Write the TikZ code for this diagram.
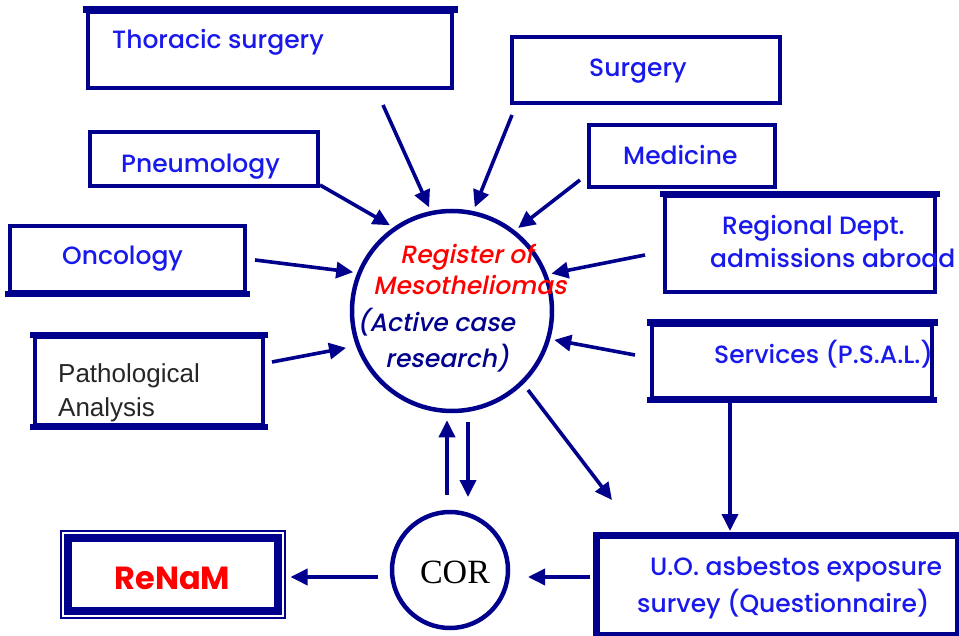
\documentclass[tikz,border=0pt]{standalone}
\usepackage{fontspec}
\usetikzlibrary{arrows.meta}
\newfontfamily\gothic[UprightFont={* Medium}, BoldFont={* Bold}]{Poppins}
\newfontfamily\gothicit[UprightFont={* Medium}, UprightFeatures={FakeSlant=0.2}]{Poppins}
\newfontfamily\arialf{Liberation Sans}
\newfontfamily\timesf{Liberation Serif}
\definecolor{navy}{RGB}{0,0,140}
\definecolor{tblue}{RGB}{25,25,235}
\definecolor{tred}{RGB}{255,0,0}
\begin{document}
\begin{tikzpicture}[x=1pt,y=-1pt,
  box/.style={draw=navy, line width=4pt, fill=white, inner sep=0pt, rectangle},
  txt/.style={anchor=base west, inner sep=0pt, text=tblue, font=\gothic\fontsize{25}{29}\selectfont},
  ctxt/.style={anchor=base west, inner sep=0pt, font=\gothicit\fontsize{25}{29}\selectfont},
  arr/.style={draw=navy, line width=3.6pt, -{Triangle[length=17pt,width=16pt]}, shorten >=4pt},
  edge/.style={draw=navy, line cap=rect}
]
\useasboundingbox (0,0) rectangle (959,636);

% boxes
\node[box, minimum width=364pt, minimum height=76pt] (thor) at (270,50) {};
\node[box, minimum width=268pt, minimum height=66pt] (surg) at (646,70) {};
\node[box, minimum width=186pt, minimum height=62pt] (med) at (682,156) {};
\node[box, minimum width=228pt, minimum height=54pt] (pneu) at (204,159) {};
\node[box, minimum width=270pt, minimum height=96pt] (reg) at (800,244) {};
\node[box, minimum width=235pt, minimum height=66pt] (onc) at (127.5,259) {};
\node[box, minimum width=280pt, minimum height=73pt] (serv) at (792,361.5) {};
\node[box, minimum width=228pt, minimum height=88pt] (path) at (149,381) {};
\node[box, minimum width=359pt, minimum height=97pt] (uo) at (777.5,585.5) {};

% thicker edges
\draw[edge, line width=7pt] (thor.north west) -- (thor.north east);
\draw[edge, line width=5.5pt] (reg.north west) -- (reg.north east);
\draw[edge, line width=6pt] (onc.south west) -- (onc.south east);
\draw[edge, line width=7pt] (serv.north west) -- (serv.north east);
\draw[edge, line width=6pt] (serv.south west) -- (serv.south east);
\draw[edge, line width=6pt] (path.north west) -- (path.north east);
\draw[edge, line width=6pt] (path.south west) -- (path.south east);
\draw[edge, line width=5.5pt] (uo.north west) -- (uo.north east);
\draw[edge, line width=5.5pt] (uo.north west) -- (uo.south west);

% ReNaM double box
\node[draw=navy, line width=2pt, minimum width=224pt, minimum height=87pt, inner sep=0pt] (renam) at (172.5,574.5) {};
\draw[navy, line width=8pt] ([shift={(8pt,-8pt)}]renam.north west) rectangle ([shift={(-8pt,8pt)}]renam.south east);
\node[inner sep=0pt, text=tred, font=\gothic\bfseries\fontsize{32}{36}\selectfont] (renamt) at (172.5,578) {ReNaM};

% circles
\node[circle, draw=navy, line width=4.5pt, minimum size=200pt, inner sep=0pt] (mes) at (452,311) {};
\node[circle, draw=navy, line width=4.5pt, minimum size=116pt, inner sep=0pt] (cor) at (450,570) {};
\node[inner sep=0pt, font=\timesf\fontsize{34}{38}\selectfont, anchor=base] (cort) at (455,583) {COR};

% texts
\node[txt] (tthor) at (112,49) {Thoracic surgery};
\node[txt] (tsurg) at (589,77) {Surgery};
\node[txt] (tmed) at (623,165) {Medicine};
\node[txt] (tpneu) at (121,173) {Pneumology};
\node[txt] (tonc) at (62,265) {Oncology};
\node[txt] (treg1) at (722,235) {Regional Dept.};
\node[txt] (treg2) at (710,268) {admissions abroad};
\node[txt] (tserv) at (714,364) {Services (P.S.A.L.)};
\node[txt] (tuo1) at (650,575) {U.O. asbestos exposure};
\node[txt] (tuo2) at (637,612) {survey (Questionnaire)};
\node[anchor=base west, inner sep=0pt, text=black!85, font=\arialf\fontsize{26}{30}\selectfont] (tpath1) at (58,382) {Pathological};
\node[anchor=base west, inner sep=0pt, text=black!85, font=\arialf\fontsize{26}{30}\selectfont] (tpath2) at (58,417) {Analysis};

\node[ctxt, text=tred] (tm1) at (400,264) {Register of};
\node[ctxt, text=tred] (tm2) at (373,295) {Mesotheliomas};
\node[ctxt, text=navy] (tm3) at (357,332) {(Active case};
\node[ctxt, text=navy] (tm4) at (385,367) {research)};

% arrow tails
\coordinate (a1) at (383,105);
\coordinate (a2) at (512,115);
\coordinate (a3) at (580,180);
\coordinate (a4) at (320,185);
\coordinate (a5) at (255,260);
\coordinate (a6) at (645,255);
\coordinate (a7) at (272,362);
\coordinate (a8) at (635,355);

\draw[arr] (a1) -- (mes.102);
\draw[arr] (a2) -- (mes.78);
\draw[arr] (a3) -- (mes.52);
\draw[arr] (a4) -- (mes.125);
\draw[arr] (a5) -- (mes.158);
\draw[arr] (a6) -- (mes.21);
\draw[arr, shorten >=10pt] (a7) -- (mes.200);
\draw[arr] (a8) -- (mes.344);

\coordinate (b1) at (528,390);
\coordinate (b2) at (612,500);
\draw[arr, shorten >=0pt] (b1) -- (b2);

\draw[arr] ([xshift=-62pt]serv.south) -- ([xshift=-62pt]serv.south |- uo.north);
\coordinate (u1) at (447,495);
\coordinate (d2) at (468,497);
\draw[arr, shorten >=7pt] (u1) -- (mes.south -| u1);
\draw[arr, shorten >=0pt, shorten <=9pt] (mes.south -| d2) -- (d2);

\coordinate (c1) at (590,577);
\coordinate (c2) at (378,577);
\draw[arr, shorten >=0pt] (c1) -- (528,577);
\draw[arr, shorten >=5pt] (c2) -- (renam.east |- c2);
\end{tikzpicture}
\end{document}
